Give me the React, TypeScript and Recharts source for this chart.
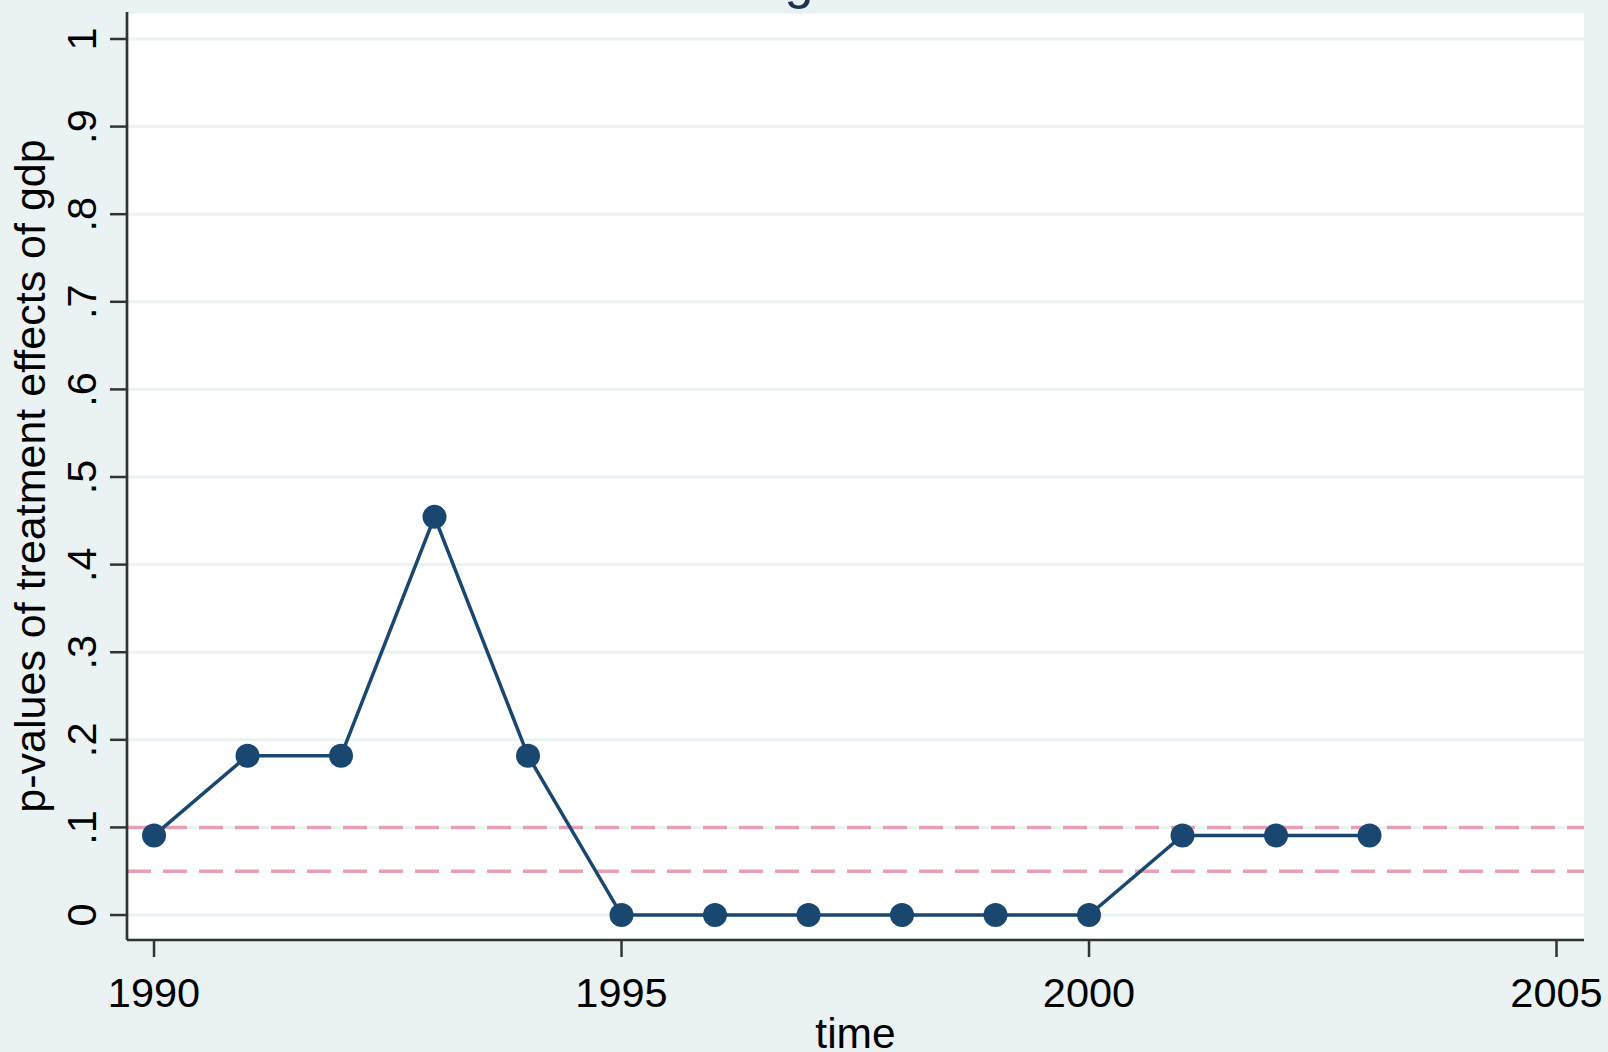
import React from "react";
import {
  LineChart,
  Line,
  XAxis,
  YAxis,
  CartesianGrid,
  ReferenceLine,
  Label,
} from "recharts";

const years = [1990, 1991, 1992, 1993, 1994, 1995, 1996, 1997, 1998, 1999, 2000, 2001, 2002, 2003];
const pValues = [0.0909, 0.1818, 0.1818, 0.4545, 0.1818, 0, 0, 0, 0, 0, 0, 0.0909, 0.0909, 0.0909];
const xTicks = [1990, 1995, 2000, 2005];
const yTicks = [0, 0.1, 0.2, 0.3, 0.4, 0.5, 0.6, 0.7, 0.8, 0.9, 1];
const yTickLabels = ["0", ".1", ".2", ".3", ".4", ".5", ".6", ".7", ".8", ".9", "1"];
const refLevels = [0.1, 0.05];

const data = years.map((t, i) => ({ time: t, p: pValues[i] }));

const FONT = "'Liberation Sans', Arial, Helvetica, sans-serif";
const NAVY = "#1a476f";
const BG = "#eaf2f3";
const AXIS = "#333333";

const XTick = (props: any) => {
  const { x, y, payload } = props;
  return (
    <text x={x} y={y + 50} textAnchor="middle" fontFamily={FONT} fontSize={41.5} fill="#000">
      {String(payload.value)}
    </text>
  );
};

const YTick = (props: any) => {
  const { x, y, payload } = props;
  const idx = yTicks.findIndex((v) => Math.abs(v - payload.value) < 1e-9);
  const label = idx >= 0 ? yTickLabels[idx] : String(payload.value);
  return (
    <g transform={`translate(${x - 14}, ${y}) rotate(-90)`}>
      <text x={0} y={0} textAnchor="middle" fontFamily={FONT} fontSize={41.5} fill="#000">
        {label}
      </text>
    </g>
  );
};

export default function App() {
  return (
    <div
      style={{
        position: "absolute",
        left: 0,
        top: 0,
        width: 1608,
        height: 1052,
        background: BG,
        overflow: "hidden",
      }}
    >
      <div
        style={{
          position: "absolute",
          left: 0,
          width: 1608,
          top: -46,
          textAlign: "center",
          fontFamily: FONT,
          fontSize: 52,
          lineHeight: "52px",
          color: "#1e3350",
        }}
      >
        <span style={{ marginLeft: -10 }}>g</span>
      </div>
      <LineChart
        width={1608}
        height={1052}
        data={data}
        margin={{ top: 12, right: 24, left: 0, bottom: 0 }}
      >
        <CartesianGrid
          horizontal={true}
          vertical={false}
          fill="#ffffff"
          stroke={BG}
          strokeWidth={3}
        />
        <XAxis
          dataKey="time"
          type="number"
          domain={[1989.711, 2005.294]}
          allowDataOverflow
          ticks={xTicks}
          interval={0}
          height={112}
          tickSize={17}
          tickMargin={0}
          axisLine={{ stroke: AXIS, strokeWidth: 2.7 }}
          tickLine={{ stroke: AXIS, strokeWidth: 2.5 }}
          tick={<XTick />}
        >
          <Label
            content={(p: any) => {
              const vb = p.viewBox || {};
              return (
                <text
                  x={vb.x + vb.width / 2}
                  y={1048}
                  textAnchor="middle"
                  fontFamily={FONT}
                  fontSize={42.5}
                  fill="#000"
                >
                  time
                </text>
              );
            }}
          />
        </XAxis>
        <YAxis
          type="number"
          domain={[-0.0285, 1.0308]}
          allowDataOverflow
          ticks={yTicks}
          interval={0}
          width={127}
          tickSize={17}
          tickMargin={0}
          axisLine={{ stroke: AXIS, strokeWidth: 2.7 }}
          tickLine={{ stroke: AXIS, strokeWidth: 2.5 }}
          tick={<YTick />}
        >
          <Label
            content={(p: any) => {
              const vb = p.viewBox || {};
              const cy = vb.y + vb.height / 2;
              return (
                <g transform={`translate(45, ${cy}) rotate(-90)`}>
                  <text x={0} y={0} textAnchor="middle" fontFamily={FONT} fontSize={43} fill="#000">
                    p-values of treatment effects of gdp
                  </text>
                </g>
              );
            }}
          />
        </YAxis>
        {refLevels.map((lv) => (
          <ReferenceLine
            key={lv}
            y={lv}
            stroke="#e6a0b2"
            strokeWidth={3.5}
            strokeDasharray="24 12"
          />
        ))}
        <Line
          type="linear"
          dataKey="p"
          stroke={NAVY}
          strokeWidth={3.5}
          isAnimationActive={false}
          dot={{ r: 12, fill: NAVY, stroke: NAVY, strokeWidth: 0 }}
          activeDot={false}
        />
      </LineChart>
    </div>
  );
}
